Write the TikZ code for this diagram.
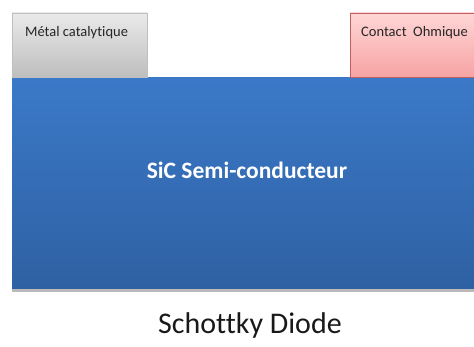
\documentclass[tikz,border=0pt]{standalone}
\usepackage{fontspec}
\setmainfont{Carlito}[Ligatures=CommonOff]
\usepackage{xcolor}
\usetikzlibrary{positioning,shadows}

\definecolor{sicTop}{HTML}{3B79C8}
\definecolor{sicBot}{HTML}{2E61A3}
\definecolor{metTop}{HTML}{EAEAEA}
\definecolor{metBot}{HTML}{BEBEBE}
\definecolor{ohmTop}{HTML}{FFD6D6}
\definecolor{ohmBot}{HTML}{F7A3A3}
\definecolor{ohmLine}{HTML}{C06060}

\begin{document}
\begin{tikzpicture}[x=1pt, y=1pt, node distance = 0mm,
  layer/.style args = {#1,#2}{top color=#1, bottom color=#2, inner sep=0pt},
  tag/.style = {font=\fontsize{14.5}{16}\selectfont, text=black!85, inner sep=0pt}]
\useasboundingbox (0,0) rectangle (474,-347);
\clip (0,0) rectangle (474,-347);
% substrate
\node (sic) [layer={sicTop,sicBot}, anchor=north west, minimum width=470pt, minimum height=211pt,
  drop shadow={shadow xshift=0pt, shadow yshift=-4pt, opacity=0.45, fill=black!60}] at (12,-77) {};
\node (sicText) [text=white, font=\fontsize{23.5}{26}\selectfont\bfseries] at (247,-170) {SiC Semi-conducteur};
% contacts
\node (metal) [layer={metTop,metBot}, draw=black!25, anchor=south west, minimum width=135pt, minimum height=64pt,
  drop shadow={shadow xshift=1pt, shadow yshift=-1pt, opacity=0.3}] at (sic.north west) {};
\node (metalText) [tag, anchor=west] at (25,-33) {Métal catalytique};
\node (ohm) [layer={ohmTop,ohmBot}, draw=ohmLine, anchor=south west, minimum width=135pt, minimum height=64pt,
  drop shadow={shadow xshift=1pt, shadow yshift=-1pt, opacity=0.3}] at (350,-77) {};
\node (ohmText) [tag, anchor=west] at (361,-33) {Contact\ \ Ohmique};
% caption
\node (caption) [font=\fontsize{30}{33}\selectfont, text=black!90] at (250,-326) {Schottky Diode};
\end{tikzpicture}
\end{document}
